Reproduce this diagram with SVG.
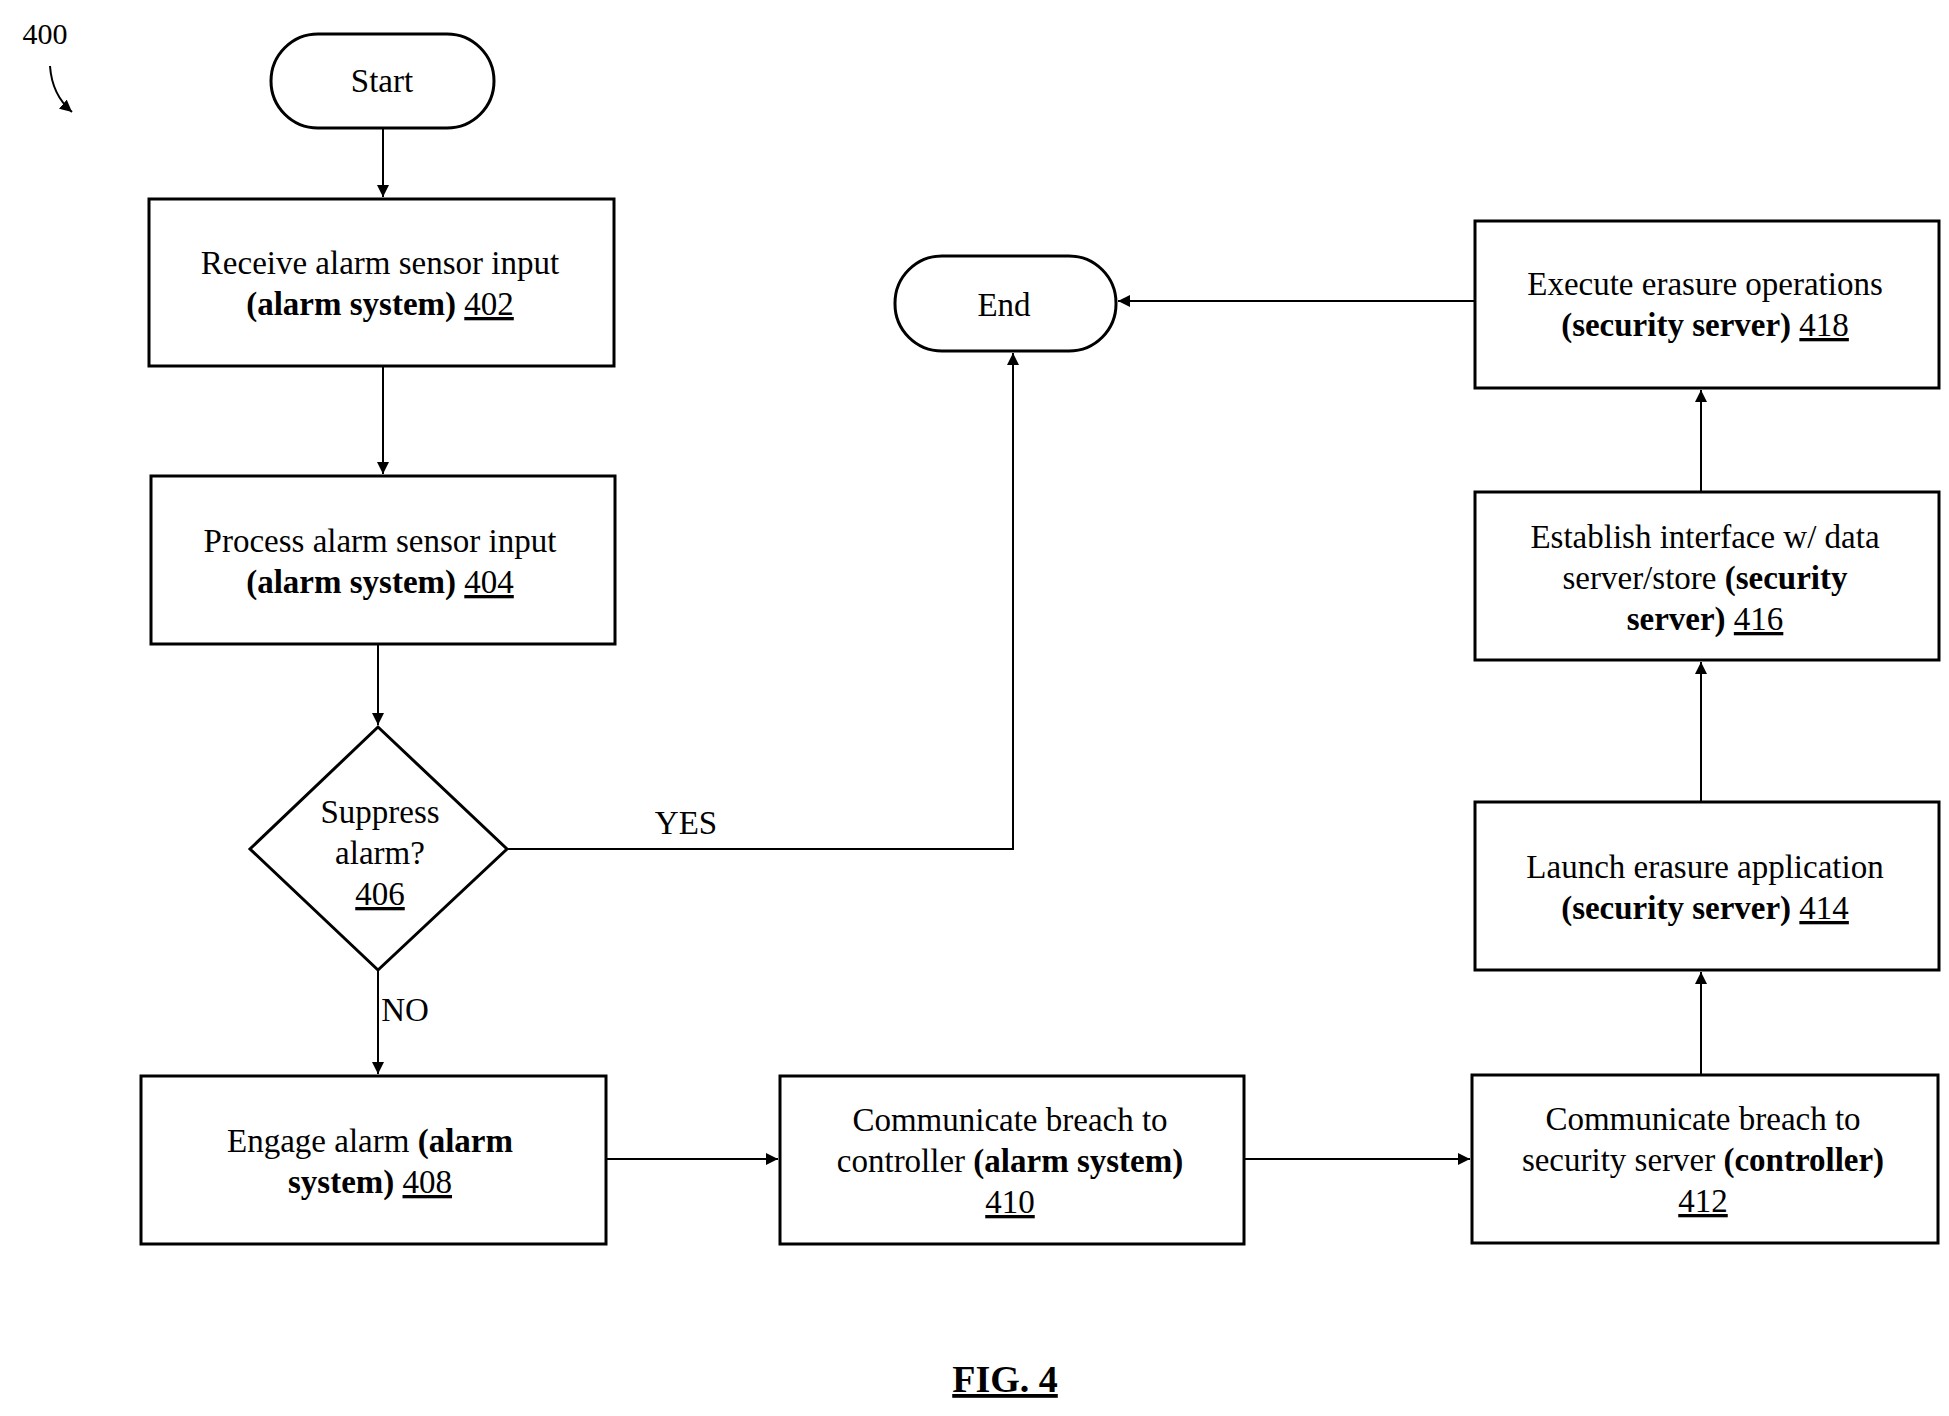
<svg xmlns="http://www.w3.org/2000/svg" width="1949" height="1416" viewBox="0 0 1949 1416">
<style>
.n{fill:#fff;stroke:#000;stroke-width:3}
.c{fill:none;stroke:#000;stroke-width:2}
text{font-family:"Liberation Serif","Times New Roman",serif;font-size:33px;text-anchor:middle;fill:#000}
.b{font-weight:bold}
.u{text-decoration:underline}
</style>
<defs><marker id="a" markerWidth="14" markerHeight="14" refX="12" refY="6" orient="auto" markerUnits="userSpaceOnUse"><path d="M0,0L12,6L0,12z" fill="#000"/></marker></defs>
<rect width="1949" height="1416" fill="#fff"/>
<text x="45" y="44" style="font-size:30px">400</text>
<path d="M50,66 Q52,95 72,112" class="c" marker-end="url(#a)"/>
<g id="connectors">
<path class="c" marker-end="url(#a)" d="M383,128V197"/>
<path class="c" marker-end="url(#a)" d="M383,366V474"/>
<path class="c" marker-end="url(#a)" d="M378,644V725"/>
<path class="c" marker-end="url(#a)" d="M378,970V1074"/>
<path class="c" marker-end="url(#a)" d="M507,849H1013V353"/>
<path class="c" marker-end="url(#a)" d="M606,1159H778"/>
<path class="c" marker-end="url(#a)" d="M1244,1159H1470"/>
<path class="c" marker-end="url(#a)" d="M1701,1075V972"/>
<path class="c" marker-end="url(#a)" d="M1701,802V662"/>
<path class="c" marker-end="url(#a)" d="M1701,492V390"/>
<path class="c" marker-end="url(#a)" d="M1475,301H1118"/>
<text x="686" y="834">YES</text>
<text x="405" y="1021">NO</text>
</g>
<g id="start"><rect class="n" x="271" y="34" width="223" height="94" rx="47"/><text x="382" y="92">Start</text></g>
<g id="end"><rect class="n" x="895" y="256" width="221" height="95" rx="47"/><text x="1004" y="316">End</text></g>
<g id="n402"><rect class="n" x="149" y="199" width="465" height="167"/><text x="380" y="274">Receive alarm sensor input</text><text x="380" y="315"><tspan class="b">(alarm system)</tspan> <tspan class="u">402</tspan></text></g>
<g id="n404"><rect class="n" x="151" y="476" width="464" height="168"/><text x="380" y="552">Process alarm sensor input</text><text x="380" y="593"><tspan class="b">(alarm system)</tspan> <tspan class="u">404</tspan></text></g>
<g id="n406"><path class="n" d="M378,727L507,849L378,970L250,849z"/><text x="380" y="823">Suppress</text><text x="380" y="864">alarm?</text><text x="380" y="905" class="u">406</text></g>
<g id="n408"><rect class="n" x="141" y="1076" width="465" height="168"/><text x="370" y="1152">Engage alarm <tspan class="b">(alarm</tspan></text><text x="370" y="1193"><tspan class="b">system)</tspan> <tspan class="u">408</tspan></text></g>
<g id="n410"><rect class="n" x="780" y="1076" width="464" height="168"/><text x="1010" y="1131">Communicate breach to</text><text x="1010" y="1172">controller <tspan class="b">(alarm system)</tspan></text><text x="1010" y="1213" class="u">410</text></g>
<g id="n412"><rect class="n" x="1472" y="1075" width="466" height="168"/><text x="1703" y="1130">Communicate breach to</text><text x="1703" y="1171">security server <tspan class="b">(controller)</tspan></text><text x="1703" y="1212" class="u">412</text></g>
<g id="n414"><rect class="n" x="1475" y="802" width="464" height="168"/><text x="1705" y="878">Launch erasure application</text><text x="1705" y="919"><tspan class="b">(security server)</tspan> <tspan class="u">414</tspan></text></g>
<g id="n416"><rect class="n" x="1475" y="492" width="464" height="168"/><text x="1705" y="548">Establish interface w/ data</text><text x="1705" y="589">server/store <tspan class="b">(security</tspan></text><text x="1705" y="630"><tspan class="b">server)</tspan>  <tspan class="u">416</tspan></text></g>
<g id="n418"><rect class="n" x="1475" y="221" width="464" height="167"/><text x="1705" y="295">Execute erasure operations</text><text x="1705" y="336"><tspan class="b">(security server)</tspan> <tspan class="u">418</tspan></text></g>
<text x="1005" y="1392" class="b u" style="font-size:38px">FIG. 4</text>
</svg>
